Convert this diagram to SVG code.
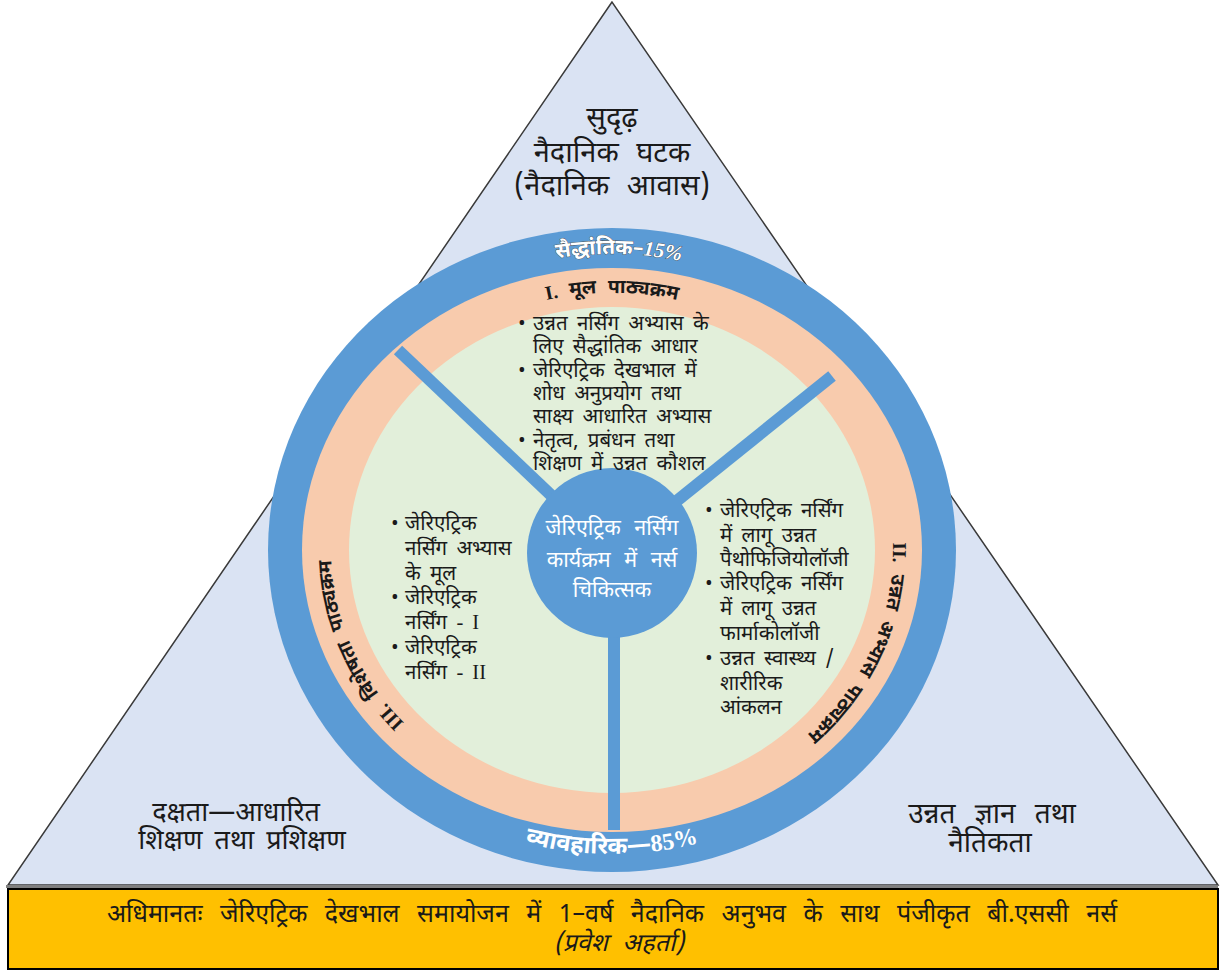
<svg xmlns="http://www.w3.org/2000/svg" width="1223" height="972" viewBox="0 0 1223 972">
<style>
.dv{font-family:'Noto Sans Devanagari','Noto Sans','Lohit Devanagari',sans-serif;fill:#1a1a1a}
.tri{font-size:29px;text-anchor:middle;word-spacing:10px}
.bul{font-size:20.5px;word-spacing:4px}
.wt{fill:#ffffff}
.bd{font-weight:bold}
.ser{font-family:'Liberation Serif',serif}
</style>
<defs>
<path id="peachArc" d="M 612 807 A 281 257 0 1 1 612 293 A 281 257 0 1 1 612 807"/>
<path id="topArc" d="M 290 550 A 322 296 0 0 1 934 550"/>
<path id="botArc" d="M 286 550 A 326 304 0 0 0 938 550"/>
</defs>
<g id="triangle">
<polygon points="612,2 8,885 1218,885" fill="#dae3f3" stroke="#3a3a3a" stroke-width="1.5"/>
<line x1="6" y1="886.5" x2="1218" y2="886.5" stroke="#7f7f7f" stroke-width="3"/>
</g>
<g id="top-label" class="dv tri">
<text x="612" y="127">सुदृढ़</text>
<text x="612" y="162">नैदानिक घटक</text>
<text x="612" y="195">(नैदानिक आवास)</text>
</g>
<g id="bl-label" class="dv tri" style="font-size:27px;word-spacing:5px">
<text x="236" y="821">दक्षता—आधारित</text>
<text x="242" y="849">शिक्षण तथा प्रशिक्षण</text>
</g>
<g id="br-label" class="dv tri" style="font-size:28px;word-spacing:12px">
<text x="992" y="823">उन्नत ज्ञान तथा</text>
<text x="990" y="852">नैतिकता</text>
</g>
<g id="rings">
<ellipse cx="612" cy="550" rx="344" ry="322" fill="#5b9bd5"/>
<ellipse cx="612" cy="550" rx="310" ry="282" fill="#f8cbad"/>
<ellipse cx="612" cy="550" rx="263" ry="243" fill="#e2efda"/>
</g>
<g id="connectors" stroke="#5b9bd5" stroke-width="12" stroke-linecap="butt">
<line x1="612" y1="553" x2="398" y2="350"/>
<line x1="612" y1="553" x2="832" y2="376"/>
<line x1="614" y1="553" x2="614" y2="830"/>
</g>
<g id="center">
<circle cx="612" cy="553" r="85" fill="#5b9bd5"/>
<g class="dv" font-size="21.5" text-anchor="middle" style="word-spacing:8px">
<text x="612" y="535" class="wt">जेरिएट्रिक नर्सिंग</text>
<text x="612" y="567" class="wt">कार्यक्रम में नर्स</text>
<text x="612" y="597" class="wt">चिकित्सक</text>
</g>
</g>
<g id="ring-labels" class="dv bd">
<text font-size="21" style="fill:#fff;stroke:#444;stroke-width:0.7;paint-order:stroke"><textPath href="#topArc" startOffset="50.7%" text-anchor="middle">सैद्धांतिक–<tspan class="ser" font-style="italic">15%</tspan></textPath></text>
<text font-size="24" style="fill:#fff"><textPath href="#botArc" startOffset="50%" text-anchor="middle">व्यावहारिक—<tspan class="ser">85%</tspan></textPath></text>
</g>
<g id="course-labels" class="dv bd" font-size="19.5" style="word-spacing:6px">
<text><textPath href="#peachArc" startOffset="50%" text-anchor="middle"><tspan class="ser">I.</tspan> मूल पाठ्यक्रम</textPath></text>
<text><textPath href="#peachArc" startOffset="81%" text-anchor="middle"><tspan class="ser">II.</tspan> उन्नत अभ्यास पाठ्यक्रम</textPath></text>
<text><textPath href="#peachArc" startOffset="19%" text-anchor="middle"><tspan class="ser">III.</tspan> विशेषता पाठ्यक्रम</textPath></text>
</g>
<g id="core-list" class="dv bul">
<text x="518" y="330">•</text>
<text x="533" y="330">उन्नत नर्सिंग अभ्यास के</text>
<text x="533" y="353">लिए सैद्धांतिक आधार</text>
<text x="518" y="377">•</text>
<text x="533" y="377">जेरिएट्रिक देखभाल में</text>
<text x="533" y="400">शोध अनुप्रयोग तथा</text>
<text x="533" y="423">साक्ष्य आधारित अभ्यास</text>
<text x="518" y="447">•</text>
<text x="533" y="447">नेतृत्व, प्रबंधन तथा</text>
<text x="533" y="470">शिक्षण में उन्नत कौशल</text>
</g>
<g id="specialty-list" class="dv bul">
<text x="391" y="530">•</text>
<text x="405" y="530">जेरिएट्रिक</text>
<text x="405" y="555">नर्सिंग अभ्यास</text>
<text x="405" y="580">के मूल</text>
<text x="391" y="604">•</text>
<text x="405" y="604">जेरिएट्रिक</text>
<text x="405" y="629">नर्सिंग <tspan class="ser">- I</tspan></text>
<text x="391" y="654">•</text>
<text x="405" y="654">जेरिएट्रिक</text>
<text x="405" y="679">नर्सिंग <tspan class="ser">- II</tspan></text>
</g>
<g id="advanced-list" class="dv bul">
<text x="705" y="517">•</text>
<text x="720" y="517">जेरिएट्रिक नर्सिंग</text>
<text x="720" y="542">में लागू उन्नत</text>
<text x="720" y="566">पैथोफिजियोलॉजी</text>
<text x="705" y="590">•</text>
<text x="720" y="590">जेरिएट्रिक नर्सिंग</text>
<text x="720" y="615">में लागू उन्नत</text>
<text x="720" y="640">फार्माकोलॉजी</text>
<text x="705" y="665">•</text>
<text x="720" y="665">उन्नत स्वास्थ्य /</text>
<text x="720" y="690">शारीरिक</text>
<text x="720" y="714">आंकलन</text>
</g>
<g id="entry-bar">
<rect x="8" y="889" width="1210" height="80" fill="#ffc000" stroke="#000" stroke-width="2"/>
<text class="dv" x="612" y="922" font-size="25" text-anchor="middle" style="word-spacing:11px">अधिमानतः जेरिएट्रिक देखभाल समायोजन में 1–वर्ष नैदानिक अनुभव के साथ पंजीकृत बी.एससी नर्स</text>
<text class="dv" x="619" y="951" font-size="25" font-style="italic" text-anchor="middle" style="word-spacing:8px">(प्रवेश अहर्ता)</text>
</g>
</svg>
